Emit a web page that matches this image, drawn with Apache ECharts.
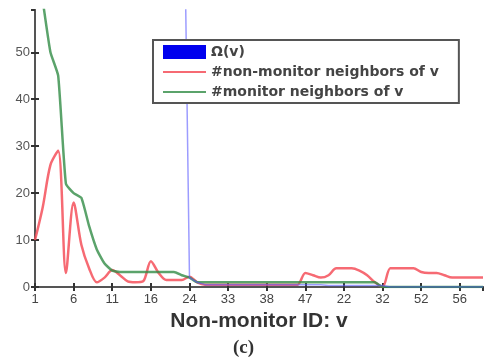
<!DOCTYPE html>
<html>
<head>
<meta charset="utf-8">
<script src="https://cdn.jsdelivr.net/npm/echarts@6/dist/echarts.min.js"></script>
<style>
  html, body { margin: 0; padding: 0; background: #fff; }
  #chart { width: 487px; height: 362px; }
</style>
</head>
<body>
<div id="chart"></div>
<script>
  // tick labels: non-monitor IDs shown every 5th position
  var tickLabels = ['1', '6', '11', '16', '24', '33', '38', '47', '22', '32', '52', '56']

  // Ω(v), values above 59 run off the top of the plot
  var omega = [120, 120, 120, 120, 120, 120, 120, 120, 120, 120,
    120, 120, 120, 120, 120, 120, 120, 120, 120, 120,
    2, 1, 0.5, 0.5, 0.5, 0.5, 0.5, 0.5, 0.5, 0.5,
    0.5, 0.5, 0.5, 0.5, 0.5, 0.5, 0.5, 0.5, 0.3, 0.3,
    0.3, 0.3, 0.3, 0.3, 0.3, 0.3, 0, 0, 0, 0,
    0, 0, 0, 0, 0, 0, 0, 0, 0]

  // #non-monitor neighbors of v
  var nonMonitor = [10, 17, 26, 29, 3, 18, 9, 4, 1, 2,
    3.6, 2.5, 1.2, 1, 1.2, 5.5, 3, 1.5, 1.5, 1.5,
    2.2, 1, 0.5, 0.5, 0.5, 0.5, 0.5, 0.5, 0.5, 0.5,
    0.5, 0.5, 0.5, 0.5, 0.5, 3, 2.5, 2, 2.5, 4,
    4, 4, 3.5, 2.5, 1, 0, 4, 4, 4, 4,
    3.2, 3, 3, 2.5, 2, 2, 2, 2, 2]

  // #monitor neighbors of v
  var monitor = [72, 61, 50, 45, 22, 20, 19, 13, 8, 5,
    3.5, 3.2, 3.2, 3.2, 3.2, 3.2, 3.2, 3.2, 3.2, 2.5,
    2, 1, 1, 1, 1, 1, 1, 1, 1, 1,
    1, 1, 1, 1, 1, 1, 1, 1, 1, 1,
    1, 1, 1, 1, 1, 0, 0, 0, 0, 0,
    0, 0, 0, 0, 0, 0, 0, 0, 0]

  function pairs (arr) {
    return arr.map(function (v, i) { return [i, v] })
  }

  var axisColor = '#555'
  var chart = echarts.init(document.getElementById('chart'))
  var option = {
    animation: false,
    title: {
      text: '(c)',
      left: 'center',
      top: 334,
      textStyle: { fontFamily: 'Liberation Serif', fontSize: 19, fontWeight: 'bold', color: '#333' }
    },
    legend: {
      left: 153,
      top: 40,
      orient: 'vertical',
      padding: [5, 20, 4, 9],
      itemGap: 6,
      itemWidth: 43,
      itemHeight: 14,
      borderColor: '#555',
      borderWidth: 2,
      backgroundColor: '#fff',
      itemStyle: { opacity: 0 },
      textStyle: { fontFamily: 'DejaVu Sans', fontSize: 14, fontWeight: 'bold', color: '#444' },
      data: [
        { name: 'Ω(v)', icon: 'rect', itemStyle: { color: '#0000ee', opacity: 1 } },
        { name: '#non-monitor neighbors of v' },
        { name: '#monitor neighbors of v' }
      ]
    },
    grid: { left: 35, right: 4, top: 10, bottom: 75 },
    xAxis: [{
      type: 'value',
      min: 0,
      max: 58,
      interval: 5,
      name: 'Non-monitor ID: v',
      nameLocation: 'middle',
      nameGap: 24,
      nameTextStyle: { fontFamily: 'Liberation Sans', fontSize: 21, fontWeight: 'bold', color: '#333' },
      axisLine: { lineStyle: { color: axisColor, width: 2 } },
      axisTick: { inside: true, length: 4, lineStyle: { color: '#333', width: 2 } },
      axisLabel: {
        color: '#444',
        fontSize: 13,
        fontFamily: 'Liberation Sans',
        margin: 6,
        showMaxLabel: false,
        formatter: function (v) { return tickLabels[v / 5] || '' }
      },
      splitLine: { show: false }
    }, {
      type: 'value',
      position: 'top',
      min: 0,
      max: 58,
      interval: 5,
      axisLine: { show: true, lineStyle: { color: axisColor, width: 2 } },
      axisTick: { inside: true, length: 4, lineStyle: { color: '#333', width: 2 } },
      axisLabel: { show: false },
      splitLine: { show: false }
    }],
    yAxis: [{
      type: 'value',
      min: 0,
      max: 59,
      interval: 10,
      axisLine: { show: true, lineStyle: { color: axisColor, width: 2 } },
      axisTick: { show: true, inside: true, length: 4, lineStyle: { color: '#333', width: 2 } },
      axisLabel: {
        color: '#555',
        fontSize: 13,
        fontFamily: 'Liberation Sans',
        margin: 5,
        showMaxLabel: false
      },
      splitLine: { show: false }
    }, {
      type: 'value',
      position: 'right',
      min: 0,
      max: 59,
      interval: 10,
      axisLine: { show: true, lineStyle: { color: axisColor, width: 2 } },
      axisTick: { show: true, inside: true, length: 4, lineStyle: { color: '#333', width: 2 } },
      axisLabel: { show: false },
      splitLine: { show: false }
    }],
    series: [
      {
        name: 'Ω(v)',
        type: 'line',
        data: pairs(omega),
        symbol: 'none',
        color: '#0000ee',
        lineStyle: { color: 'rgba(90,90,255,0.6)', width: 1.5 },
        z: 3
      },
      {
        name: '#non-monitor neighbors of v',
        type: 'line',
        data: pairs(nonMonitor),
        symbol: 'none',
        smooth: 0.3,
        color: '#f77',
        lineStyle: { color: 'rgba(245,80,90,0.85)', width: 2.5 },
        z: 2
      },
      {
        name: '#monitor neighbors of v',
        type: 'line',
        data: pairs(monitor),
        symbol: 'none',
        smooth: 0.15,
        color: '#2e8b3e',
        lineStyle: { color: 'rgba(50,140,70,0.8)', width: 2.5 },
        z: 2
      }
    ]
  }
  chart.setOption(option)
</script>
</body>
</html>
